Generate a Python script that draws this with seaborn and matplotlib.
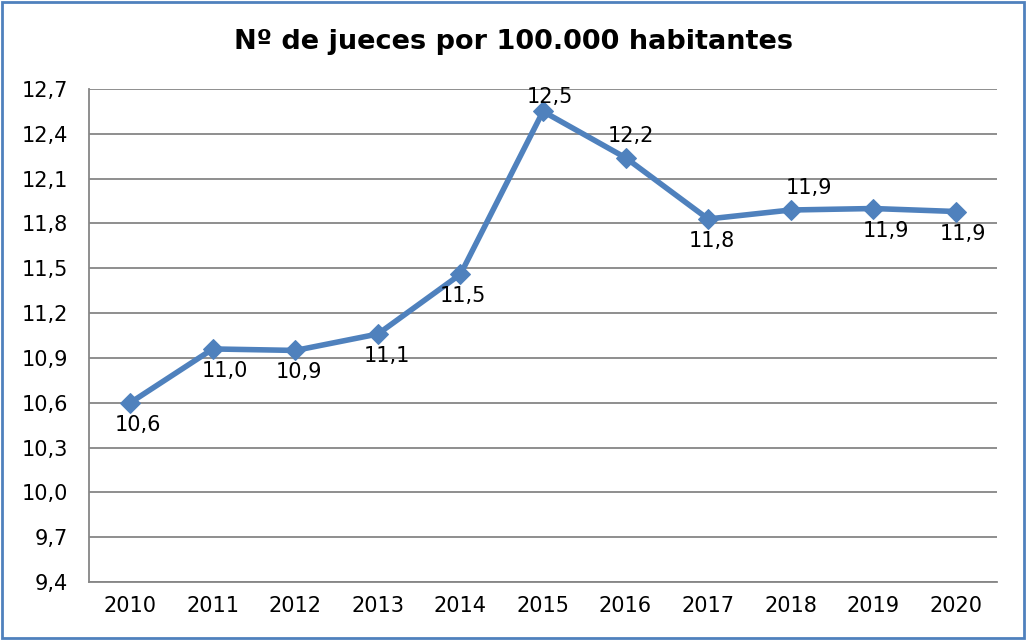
import matplotlib
matplotlib.use("Agg")
import matplotlib.pyplot as plt
import seaborn as sns
import pandas as pd

years = ["2010", "2011", "2012", "2013", "2014", "2015", "2016", "2017", "2018", "2019", "2020"]
values = [10.60, 10.96, 10.95, 11.06, 11.46, 12.55, 12.24, 11.83, 11.89, 11.90, 11.88]
labels = ["10,6", "11,0", "10,9", "11,1", "11,5", "12,5", "12,2", "11,8", "11,9", "11,9", "11,9"]
label_pos = ["below", "below", "below", "below", "below", "above", "above", "below", "above", "below", "below"]
yticks = [9.4, 9.7, 10.0, 10.3, 10.6, 10.9, 11.2, 11.5, 11.8, 12.1, 12.4, 12.7]
title = "Nº de jueces por 100.000 habitantes"

# label nudges (pixels), styling only
label_dx = [8, 12, 4, 9, 2, 7, 5, 4, 18, 13, 7]
label_dy = [12, 12, 12, 12, 12, 4, 12, 12, 12, 12, 12]

sns.set_style("white")
plt.rcParams['font.family'] = ['DejaVu Sans']
plt.rcParams['text.color'] = 'black'

df = pd.DataFrame({"year": years, "value": values})
color = "#4F81BD"

fig = plt.figure(figsize=(10.27, 6.4), dpi=100)
ax = fig.add_axes([89/1027, 1-582/640, (997-89)/1027, (582-89)/640])

sns.lineplot(data=df, x="year", y="value", ax=ax, color=color, linewidth=4,
             marker="D", markersize=10, markeredgecolor=color, sort=False)

ax.set_ylim(9.4, 12.7)
ax.set_yticks(yticks)
ax.set_yticklabels([f"{t:.1f}".replace(".", ",") for t in yticks])
ax.set_xlim(-0.5, len(years) - 0.5)
ax.yaxis.grid(True, color="#868686", linewidth=1.3)
ax.xaxis.grid(False)
for s in ["top", "right"]:
    ax.spines[s].set_visible(False)
for s in ["left", "bottom"]:
    ax.spines[s].set_color("#868686")
    ax.spines[s].set_linewidth(1.3)
ax.tick_params(axis="both", length=0, labelsize=15, colors="black", pad=10)
ax.tick_params(axis="y", pad=15)
ax.set_xlabel("")
ax.set_ylabel("")

px = 72 / 100.0
for i, (v, lab, pos, dx, dy) in enumerate(zip(values, labels, label_pos, label_dx, label_dy)):
    if pos == "above":
        ax.annotate(lab, (i, v), xytext=(dx * px, dy * px), textcoords="offset points",
                    ha="center", va="bottom", fontsize=15, color="black")
    else:
        ax.annotate(lab, (i, v), xytext=(dx * px, -dy * px), textcoords="offset points",
                    ha="center", va="top", fontsize=15, color="black")

fig.text(0.5, 1-42/640, title, ha="center", va="center", fontsize=19.5,
         fontweight="bold", color="black")

border = plt.Rectangle((0.002, 0.003), 0.995, 0.994, transform=fig.transFigure,
                       fill=False, edgecolor=color, linewidth=2)
fig.patches.append(border)

fig.savefig("out.png", dpi=100)
